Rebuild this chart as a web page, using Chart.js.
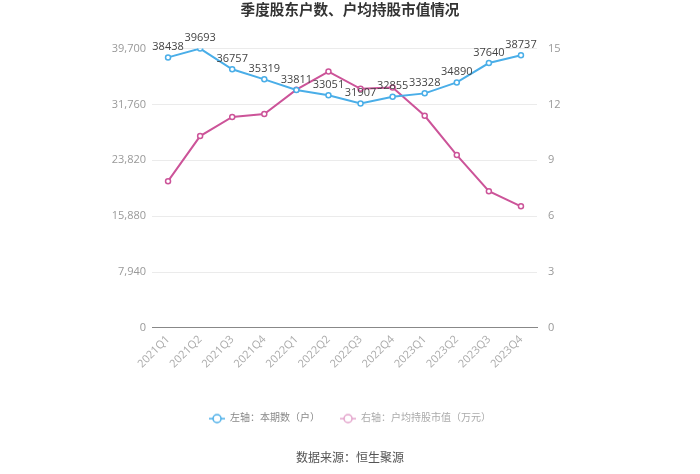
<!DOCTYPE html>
<html>
<head>
<meta charset="utf-8">
<script src="https://cdn.jsdelivr.net/npm/chart.js@4"></script>
<style>
  html, body { margin: 0; padding: 0; background: #fff; }
  #wrap { width: 700px; height: 474px; }
</style>
</head>
<body>
<div id="wrap"><canvas id="c"></canvas></div>
<script>
const quarters = ['2021Q1', '2021Q2', '2021Q3', '2021Q4', '2022Q1', '2022Q2',
                  '2022Q3', '2022Q4', '2023Q1', '2023Q2', '2023Q3', '2023Q4']
const holders = [38438, 39693, 36757, 35319, 33811, 33051, 31907, 32855, 33328, 34890, 37640, 38737]
const avgValue = [7.88, 10.3, 11.33, 11.48, 12.79, 13.76, 12.84, 12.91, 11.39, 9.28, 7.34, 6.53]
const leftTicks = [0, 7940, 15880, 23820, 31760, 39700]
const rightTicks = [0, 3, 6, 9, 12, 15]

const BLUE = '#4aaee8'
const PINK = '#cc5499'
const FONT = "'Open Sans', 'Noto Sans CJK SC', sans-serif"

// little "-o-" legend marker
function markerIcon(color) {
  const cv = document.createElement('canvas')
  cv.width = 16; cv.height = 12
  const g = cv.getContext('2d')
  g.strokeStyle = color
  g.lineWidth = 1.5
  g.beginPath(); g.moveTo(0, 6); g.lineTo(16, 6); g.stroke()
  g.fillStyle = '#fff'
  g.beginPath(); g.arc(8, 6, 4, 0, Math.PI * 2); g.fill(); g.stroke()
  return cv
}

// value labels above the blue line
const pointLabels = {
  id: 'pointLabels',
  afterDatasetsDraw(chart) {
    const { ctx } = chart
    const meta = chart.getDatasetMeta(0)
    ctx.save()
    ctx.font = `11px ${FONT}`
    ctx.fillStyle = '#444'
    ctx.textAlign = 'center'
    ctx.textBaseline = 'bottom'
    meta.data.forEach((pt, i) => {
      ctx.fillText(String(holders[i]), pt.x, pt.y - 5)
    })
    ctx.restore()
  }
}

Chart.defaults.font.family = FONT

new Chart(document.getElementById('c'), {
  type: 'line',
  data: {
    labels: quarters,
    datasets: [
      {
        label: '左轴：本期数（户）',
        data: holders,
        yAxisID: 'y',
        borderColor: BLUE,
        backgroundColor: '#fff',
        borderWidth: 2,
        pointRadius: 2.5,
        pointBorderWidth: 1.5,
        pointBorderColor: BLUE,
        pointBackgroundColor: '#fff',
        tension: 0,
      },
      {
        label: '右轴：户均持股市值（万元）',
        data: avgValue,
        yAxisID: 'y1',
        borderColor: PINK,
        backgroundColor: '#fff',
        borderWidth: 2,
        pointRadius: 2.5,
        pointBorderWidth: 1.5,
        pointBorderColor: PINK,
        pointBackgroundColor: '#fff',
        tension: 0,
      }
    ]
  },
  options: {
    responsive: true,
    maintainAspectRatio: false,
    animation: false,
    layout: { padding: { left: 0, right: 0, top: 0, bottom: 6 } },
    scales: {
      x: {
        offset: true,
        afterFit: axis => { axis.height += 23 },
        grid: { display: false, drawTicks: true, tickLength: 5, tickColor: '#999' },
        border: { color: '#888', width: 1 },
        ticks: { color: '#aaa', font: { size: 11 }, maxRotation: 45, minRotation: 45, padding: 0 }
      },
      y: {
        position: 'left',
        min: 0, max: 39700,
        afterBuildTicks: axis => { axis.ticks = leftTicks.map(v => ({ value: v })) },
        afterFit: axis => { axis.width = 152 },
        grid: { color: '#ebebeb', drawTicks: false },
        border: { display: false },
        ticks: {
          color: '#999', font: { size: 11 }, padding: 6,
          callback: v => v.toLocaleString('en-US')
        }
      },
      y1: {
        position: 'right',
        min: 0, max: 15,
        afterBuildTicks: axis => { axis.ticks = rightTicks.map(v => ({ value: v })) },
        afterFit: axis => { axis.width = 163 },
        grid: { display: false, drawTicks: false },
        border: { display: false },
        ticks: { color: '#999', font: { size: 11 }, padding: 11 }
      }
    },
    plugins: {
      title: {
        display: true,
        text: '季度股东户数、户均持股市值情况',
        color: '#333',
        font: { size: 14.6, weight: 'bold' },
        padding: { top: 2, bottom: 29 }
      },
      legend: {
        position: 'bottom',
        labels: {
          color: '#888',
          font: { size: 10 },
          usePointStyle: true,
          pointStyleWidth: 16,
          padding: 20,
          generateLabels: chart => chart.data.datasets.map((ds, i) => ({
            text: ds.label,
            pointStyle: markerIcon(i === 0 ? BLUE : '#e3a3cb'),
            fontColor: i === 0 ? '#888' : '#aaa',
            datasetIndex: i,
            lineWidth: 0,
          }))
        }
      },
      subtitle: {
        display: true,
        position: 'bottom',
        text: '数据来源：恒生聚源',
        color: '#555',
        font: { size: 12 },
        padding: { top: 18, bottom: 2 }
      },
      tooltip: { enabled: false }
    }
  },
  plugins: [pointLabels]
})
</script>
</body>
</html>
